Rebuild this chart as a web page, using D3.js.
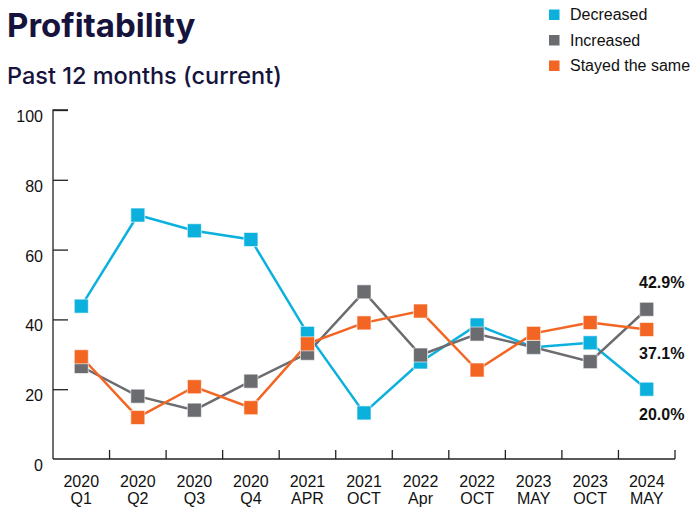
<!DOCTYPE html>
<html>
<head>
<meta charset="utf-8">
<script src="https://cdnjs.cloudflare.com/ajax/libs/d3/7.8.5/d3.min.js"></script>
<style>
  body { margin: 0; background: #fff; }
  svg { display: block; }
  .title { font-family: Inter, "Noto Sans", sans-serif; font-weight: 700; font-size: 33px; fill: #16133d; }
  .subtitle { font-family: Inter, "Noto Sans", sans-serif; font-weight: 500; font-size: 23.5px; fill: #16133d; }
  .legend text { font-family: "Liberation Sans", Arial, sans-serif; font-size: 16px; fill: #111; }
  .axis text { font-family: "Liberation Sans", Arial, sans-serif; font-size: 16px; fill: #111; }
  .axis path, .axis line { stroke: #222; stroke-width: 1.3; }
  .end-label { font-family: "Liberation Sans", Arial, sans-serif; font-weight: 700; font-size: 16px; fill: #111; }
</style>
</head>
<body>
<svg id="chart" width="693" height="508"></svg>
<script>
// data
var periods = ["2020 Q1", "2020 Q2", "2020 Q3", "2020 Q4", "2021 APR", "2021 OCT",
               "2022 Apr", "2022 OCT", "2023 MAY", "2023 OCT", "2024 MAY"];
var decreased = [43.8, 69.9, 65.4, 62.9, 36.0, 13.2, 27.8, 38.4, 32.0, 33.3, 20.0];
var increased = [26.5, 18.0, 14.0, 22.3, 30.3, 47.9, 29.8, 35.8, 32.0, 27.9, 42.9];
var stayedSame = [29.3, 11.9, 20.7, 14.7, 33.0, 39.0, 42.4, 25.5, 36.0, 39.1, 37.1];
var yTicks = [0, 20, 40, 60, 80, 100];

var series = [
  { name: "Decreased", values: decreased, color: "#0cb0dd" },
  { name: "Increased", values: increased, color: "#6b6c70" },
  { name: "Stayed the same", values: stayedSame, color: "#f26522" }
];

var svg = d3.select("#chart");

svg.append("text").attr("class", "title").attr("x", 7).attr("y", 37).text("Profitability");
svg.append("text").attr("class", "subtitle").attr("x", 7).attr("y", 84).text("Past 12 months (current)");

// scales
var x = d3.scaleBand().domain(periods).range([53, 675]);
var y = d3.scaleLinear().domain([0, 100]).range([459, 110]);

// y axis (ticks pointing inward, labels hang just below each tick)
var yAxis = svg.append("g").attr("class", "axis").attr("transform", "translate(53,0)")
  .call(d3.axisRight(y).tickValues(yTicks).tickSize(15).tickSizeOuter(15));
yAxis.select(".domain").attr("d", "M15," + y(100) + "H0V" + y(0));
yAxis.selectAll(".tick text").attr("x", -10).attr("y", 11.5).attr("dy", null).attr("text-anchor", "end");
yAxis.selectAll(".tick").filter(function(d) { return d === 0; }).select("line").remove();

// x axis: ticks at band edges, pointing up
var xg = svg.append("g").attr("class", "axis").attr("transform", "translate(0," + y(0) + ")");
xg.append("line").attr("x1", 53).attr("x2", 675).attr("y1", 0).attr("y2", 0);
xg.selectAll(".xtick").data(periods).enter().append("line")
  .attr("class", "xtick")
  .attr("x1", function(d) { return x(d) + x.bandwidth(); })
  .attr("x2", function(d) { return x(d) + x.bandwidth(); })
  .attr("y1", 0).attr("y2", -9);
var xl = xg.selectAll(".xlabel").data(periods).enter().append("text")
  .attr("class", "xlabel").attr("text-anchor", "middle")
  .attr("transform", function(d) { return "translate(" + (x(d) + x.bandwidth() / 2) + ",0)"; });
xl.append("tspan").attr("x", 0).attr("y", 28).text(function(d) { return d.split(" ")[0]; });
xl.append("tspan").attr("x", 0).attr("y", 45).text(function(d) { return d.split(" ")[1]; });

// lines
var line = d3.line()
  .x(function(d, i) { return x(periods[i]) + x.bandwidth() / 2; })
  .y(function(d) { return y(d); });

var ms = 14;
series.forEach(function(s) {
  svg.append("path").datum(s.values)
    .attr("fill", "none").attr("stroke", s.color).attr("stroke-width", 2.5)
    .attr("d", line);
});
series.forEach(function(s) {
  svg.selectAll(null).data(s.values).enter().append("rect")
    .attr("x", function(d, i) { return x(periods[i]) + x.bandwidth() / 2 - ms / 2; })
    .attr("y", function(d) { return y(d) - ms / 2; })
    .attr("width", ms).attr("height", ms)
    .attr("fill", s.color)
    .attr("stroke", "#ffffff").attr("stroke-opacity", 0.6).attr("stroke-width", 1);
});

// end labels
var last = periods.length - 1;
var endOffsets = { "Decreased": 31, "Increased": -21, "Stayed the same": 29 };
series.forEach(function(s) {
  svg.append("text").attr("class", "end-label")
    .attr("x", x(periods[last]) + x.bandwidth() / 2 + 15)
    .attr("y", y(s.values[last]) + endOffsets[s.name])
    .attr("text-anchor", "middle")
    .text(s.values[last].toFixed(1) + "%");
});

// legend
var legend = svg.append("g").attr("class", "legend");
series.forEach(function(s, i) {
  var g = legend.append("g").attr("transform", "translate(549," + (9.5 + i * 25.5) + ")");
  g.append("rect").attr("width", 10.5).attr("height", 10.5).attr("fill", s.color);
  g.append("text").attr("x", 21).attr("y", 10.5).text(s.name);
});
</script>
</body>
</html>
